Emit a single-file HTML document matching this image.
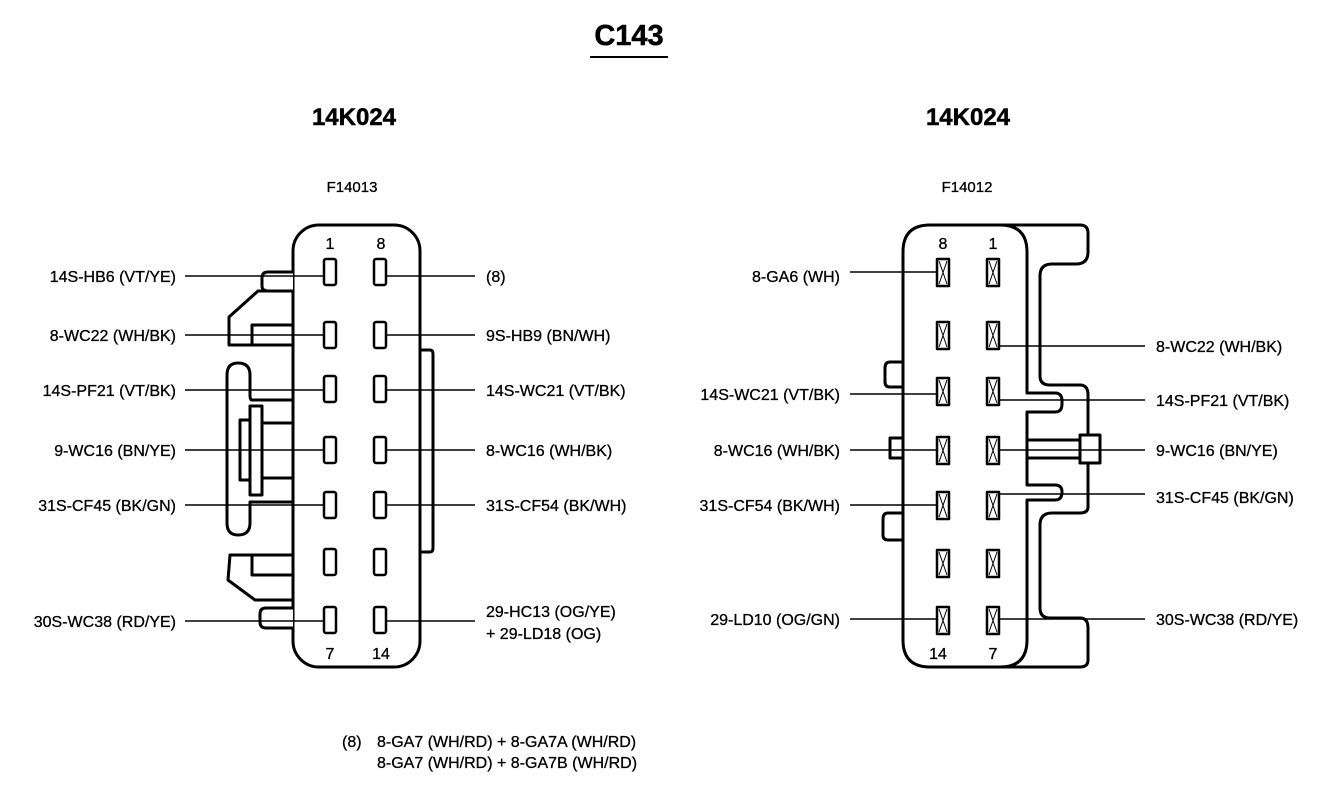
<!DOCTYPE html>
<html><head><meta charset="utf-8"><style>
body{margin:0;background:#fff}
svg{display:block}
text{font-family:"Liberation Sans",Arial,sans-serif;font-size:16px;fill:#000;stroke:#000;stroke-width:0.3}
.b{font-weight:bold;stroke-width:0.5}
</style></head><body>
<svg width="1328" height="808" viewBox="0 0 1328 808" xmlns="http://www.w3.org/2000/svg">
<g fill="none" stroke="#000" stroke-width="3" stroke-linejoin="round">
<rect x="293" y="225" width="127" height="442" rx="26"/>
<path d="M293,272 H268 Q262,272 262,278 V286 Q262,291 268,291 H293" fill="#fff"/>
<path d="M293,291 H258 L229,317 V345 H293"/>
<rect x="252" y="325" width="41" height="20"/>
<path d="M293,400 H252 Q250,400 250,395 V375 Q250,363 238,363 Q227,363 227,375 V523 Q227,535 238,535 Q250,535 250,523 V502 H293"/>
<rect x="240" y="420" width="10" height="60"/>
<rect x="250" y="406" width="12" height="89" fill="#fff"/>
<rect x="262" y="423" width="31" height="55"/>
<path d="M293,555 H230 L228,580 L255,600 H293"/>
<rect x="252" y="555" width="41" height="20"/>
<path d="M293,608 H266 Q260,608 260,614 V622 Q260,628 266,628 H293" fill="#fff"/>
<path d="M420,350 H430 Q433,350 433,354 V548 Q433,552 430,552 H420"/>
<g stroke-width="2.5">
<rect x="324" y="259" width="12" height="26" rx="2"/><rect x="374" y="259" width="12" height="26" rx="2"/>
<rect x="324" y="322" width="12" height="26" rx="2"/><rect x="374" y="322" width="12" height="26" rx="2"/>
<rect x="324" y="376" width="12" height="26" rx="2"/><rect x="374" y="376" width="12" height="26" rx="2"/>
<rect x="324" y="437" width="12" height="26" rx="2"/><rect x="374" y="437" width="12" height="26" rx="2"/>
<rect x="324" y="492" width="12" height="26" rx="2"/><rect x="374" y="492" width="12" height="26" rx="2"/>
<rect x="324" y="549" width="12" height="26" rx="2"/><rect x="374" y="549" width="12" height="26" rx="2"/>
<rect x="324" y="607" width="12" height="26" rx="2"/><rect x="374" y="607" width="12" height="26" rx="2"/>
</g>
<g stroke-width="1.5">
<path d="M185,276 H324 M185,335 H324 M185,390 H324 M185,450 H324 M185,505 H324 M185,621 H324"/>
<path d="M386,276 H475 M386,335 H475 M386,390 H475 M386,450 H475 M386,505 H475 M386,621 H475"/>
</g>
<path d="M930,225 H1080 Q1088,225 1088,233 V252 Q1088,264 1076,264 H1052 Q1040,264 1040,276 V376 Q1040,385 1050,385 H1080 Q1088,385 1088,395 V507 Q1088,513 1080,513 H1052 Q1040,513 1040,525 V608 Q1040,618 1050,618 H1080 Q1088,618 1088,628 V660 Q1088,667 1080,667 H930 Q903,667 903,640 V252 Q903,225 930,225 Z"/>
<path d="M1000,225 Q1027,225 1027,252 V393 H1055 Q1062,393 1062,401 V404 Q1062,412 1055,412 H1027 V485 H1055 Q1062,485 1062,492 Q1062,500 1055,500 H1027 V640 Q1027,667 1000,667"/>
<rect x="1080" y="435" width="20" height="28" fill="#fff"/>
<path d="M1027,440 H1080 M1027,458 H1080"/>
<path d="M903,362 H890 Q885,362 885,368 V382 Q885,387 890,387 H903"/>
<path d="M903,438 H890 V458 H903"/>
<path d="M903,513 H888 Q883,513 883,519 V535 Q883,540 888,540 H903"/>
<g stroke-width="2.5">
<rect x="937" y="259" width="12" height="27"/><rect x="987" y="259" width="12" height="27"/>
<rect x="937" y="322" width="12" height="27"/><rect x="987" y="322" width="12" height="27"/>
<rect x="937" y="378" width="12" height="27"/><rect x="987" y="378" width="12" height="27"/>
<rect x="937" y="437" width="12" height="27"/><rect x="987" y="437" width="12" height="27"/>
<rect x="937" y="492" width="12" height="27"/><rect x="987" y="492" width="12" height="27"/>
<rect x="937" y="550" width="12" height="27"/><rect x="987" y="550" width="12" height="27"/>
<rect x="937" y="607" width="12" height="27"/><rect x="987" y="607" width="12" height="27"/>
</g>
<g stroke-width="1">
<path d="M939,261 L947,284 M947,261 L939,284 M989,261 L997,284 M997,261 L989,284"/>
<path d="M939,324 L947,347 M947,324 L939,347 M989,324 L997,347 M997,324 L989,347"/>
<path d="M939,380 L947,403 M947,380 L939,403 M989,380 L997,403 M997,380 L989,403"/>
<path d="M939,439 L947,462 M947,439 L939,462 M989,439 L997,462 M997,439 L989,462"/>
<path d="M939,494 L947,517 M947,494 L939,517 M989,494 L997,517 M997,494 L989,517"/>
<path d="M939,552 L947,575 M947,552 L939,575 M989,552 L997,575 M997,552 L989,575"/>
<path d="M939,609 L947,632 M947,609 L939,632 M989,609 L997,632 M997,609 L989,632"/>
</g>
<g stroke-width="1.5">
<path d="M850,272 H937 M850,394 H937 M850,450 H937 M850,505 H937 M850,619 H937"/>
<path d="M999,346 H1145 M999,400 H1145 M999,450 H1145 M999,494 H1145 M999,619 H1145"/>
</g>
<path d="M590,57 H668" stroke-width="2"/>
</g>
<text x="629" y="45" class="b" style="font-size:29px" text-anchor="middle">C143</text>
<text x="354" y="125" class="b" style="font-size:24px" text-anchor="middle">14K024</text>
<text x="968" y="125" class="b" style="font-size:24px" text-anchor="middle">14K024</text>
<text x="352" y="192" style="font-size:15px" text-anchor="middle">F14013</text>
<text x="967" y="192" style="font-size:15px" text-anchor="middle">F14012</text>
<g style="font-size:15px" text-anchor="middle">
<text x="330" y="249">1</text><text x="381" y="249">8</text>
<text x="330" y="659">7</text><text x="381" y="659">14</text>
<text x="943" y="249">8</text><text x="993" y="249">1</text>
<text x="938" y="659">14</text><text x="993" y="659">7</text>
</g>
<g text-anchor="end">
<text x="176" y="282">14S-HB6 (VT/YE)</text>
<text x="176" y="341">8-WC22 (WH/BK)</text>
<text x="176" y="396">14S-PF21 (VT/BK)</text>
<text x="176" y="456">9-WC16 (BN/YE)</text>
<text x="176" y="511">31S-CF45 (BK/GN)</text>
<text x="176" y="627">30S-WC38 (RD/YE)</text>
<text x="840" y="282">8-GA6 (WH)</text>
<text x="840" y="400">14S-WC21 (VT/BK)</text>
<text x="840" y="456">8-WC16 (WH/BK)</text>
<text x="840" y="511">31S-CF54 (BK/WH)</text>
<text x="840" y="625">29-LD10 (OG/GN)</text>
</g>
<text x="486" y="282">(8)</text>
<text x="486" y="341">9S-HB9 (BN/WH)</text>
<text x="486" y="396">14S-WC21 (VT/BK)</text>
<text x="486" y="456">8-WC16 (WH/BK)</text>
<text x="486" y="511">31S-CF54 (BK/WH)</text>
<text x="486" y="617">29-HC13 (OG/YE)</text>
<text x="486" y="639">+ 29-LD18 (OG)</text>
<text x="1156" y="352">8-WC22 (WH/BK)</text>
<text x="1156" y="406">14S-PF21 (VT/BK)</text>
<text x="1156" y="456">9-WC16 (BN/YE)</text>
<text x="1156" y="503">31S-CF45 (BK/GN)</text>
<text x="1156" y="625">30S-WC38 (RD/YE)</text>
<text x="342" y="747">(8)</text>
<text x="377" y="747">8-GA7 (WH/RD) + 8-GA7A (WH/RD)</text>
<text x="377" y="768">8-GA7 (WH/RD) + 8-GA7B (WH/RD)</text>
</svg>
</body></html>
